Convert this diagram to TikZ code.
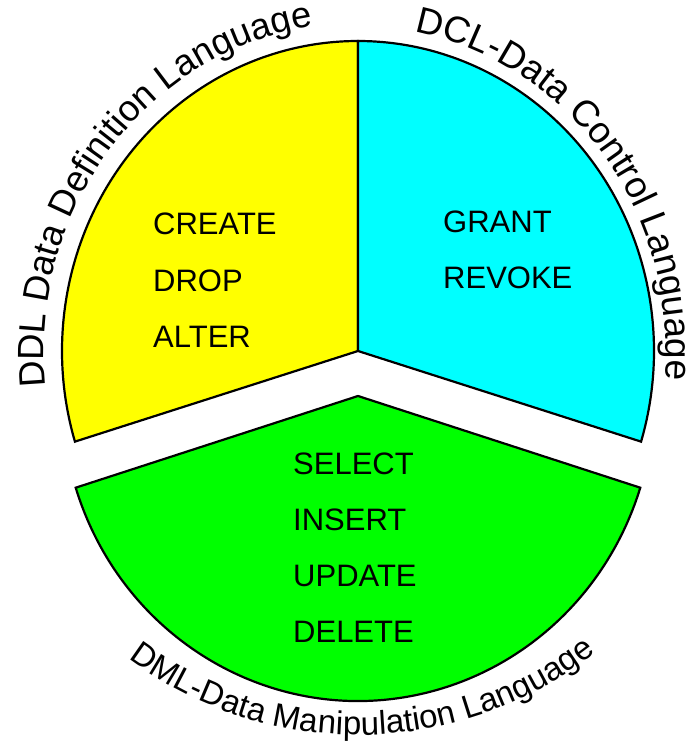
\documentclass[tikz,border=0pt]{standalone}
\usepackage{fontspec}
\setmainfont{Liberation Sans}
\usetikzlibrary{decorations.text}
\definecolor{pieyellow}{RGB}{255,255,0}
\definecolor{piecyan}{RGB}{0,255,255}
\definecolor{piegreen}{RGB}{0,255,0}
\begin{document}
\begin{tikzpicture}[x=1pt,y=1pt,
  sector/.style={draw=black, line width=2.2pt, line join=miter},
  item/.style={anchor=base west, inner sep=0pt, font=\fontsize{31}{36}\selectfont},
  curvelabel/.style={decorate, decoration={text along path, text align=center, text={#1}}}
]
\useasboundingbox (0,0) rectangle (694,745);
\coordinate (C) at (358,394);
\coordinate (G) at (358,349);
% sectors
\draw[sector, fill=pieyellow] (C) -- ++(0,310) arc[start angle=90, end angle=197, x radius=296pt, y radius=310pt] -- cycle;
\draw[sector, fill=piecyan] (C) -- ++(0,310) arc[start angle=90, end angle=-17, x radius=296pt, y radius=310pt] -- cycle;
\draw[sector, fill=piegreen] (G) -- ++(-282.3,-91.7) arc[start angle=197.5, end angle=342.5, x radius=296pt, y radius=305pt] -- cycle;
% items
\node[item] (create) at (153,510) {CREATE};
\node[item] (drop) at (153,453) {DROP};
\node[item] (alter) at (153,397) {ALTER};
\node[item] (grant) at (443,512) {GRANT};
\node[item] (revoke) at (443,456) {REVOKE};
\node[item] (select) at (293,270) {SELECT};
\node[item] (insert) at (293,214) {INSERT};
\node[item] (update) at (293,158) {UPDATE};
\node[item] (delete) at (293,102) {DELETE};
% curved labels
\path[curvelabel={|\fontsize{36.5}{40}\selectfont|DDL Data Definition Language}]
  (57.7,298.1) arc[start angle=197, end angle=87, x radius=314pt, y radius=328pt];
\path[curvelabel={|\fontsize{37}{40}\selectfont|DCL-Data Control Language}]
  (344.6,718.7) arc[start angle=92.5, end angle=-17.5, x radius=308pt, y radius=325pt];
\path[curvelabel={|\fontsize{33}{40}\selectfont|DML-Data Manipulation Language}]
  (67.1,143.4) arc[start angle=220.75, end angle=320.75, radius=384pt];
\end{tikzpicture}
\end{document}
